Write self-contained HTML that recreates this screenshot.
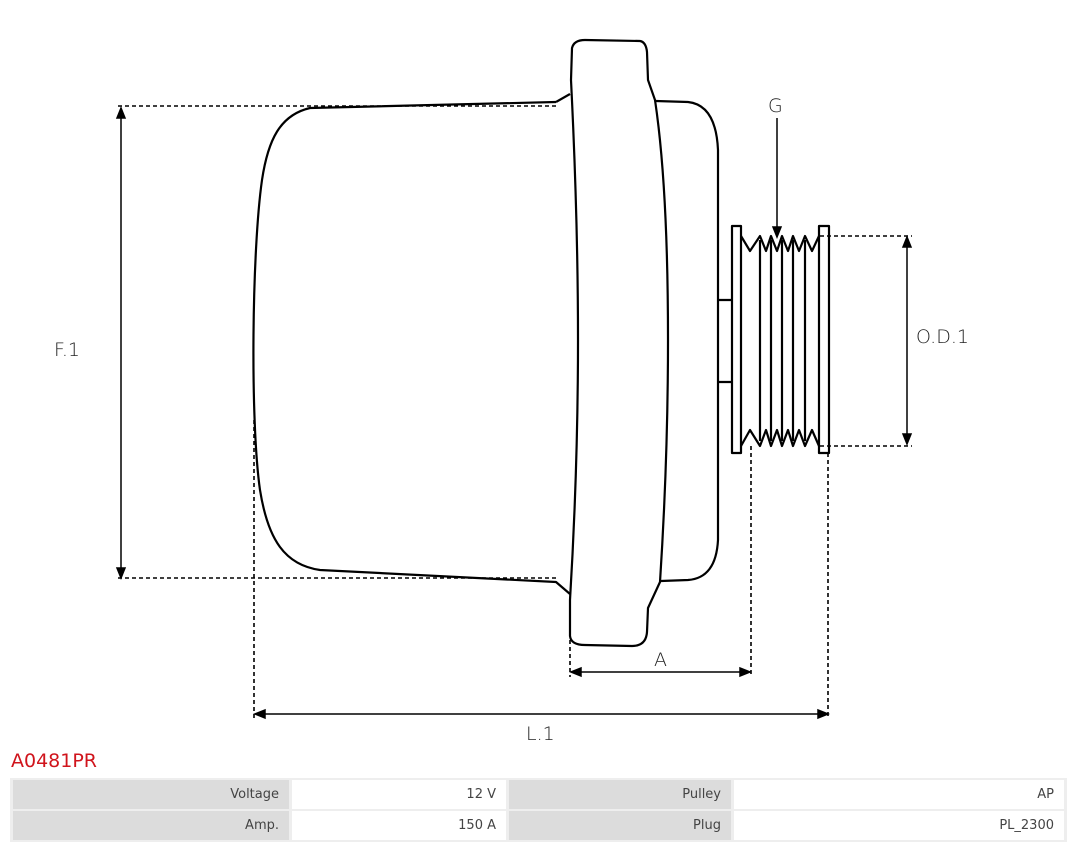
<!DOCTYPE html>
<html><head><style>
body{margin:0;width:1080px;height:851px;background:#fff;font-family:"DejaVu Sans","Liberation Sans",sans-serif;overflow:hidden;position:relative}
svg{position:absolute;left:0;top:0}
.t{position:absolute;left:11px;top:750px;color:#d0141c;font-size:19px}
table{position:absolute;left:10px;top:778px;border-collapse:separate;border-spacing:3px 2px;width:1057px;font-size:13px;color:#444;background:#eee}
td{height:29px;text-align:right;padding:0 10px;background:#fff}
td.l{background:#dcdcdc}
</style></head><body>
<svg width="1080" height="760" viewBox="0 0 1080 760">
<g fill="none" stroke="#000" stroke-width="2.2" stroke-linejoin="round">
<path d="M556,102 L310,108 C280,115 268,140 262,180 C252,250 250,420 260,490 C268,540 285,565 320,570 L556,582 L570,594"/>
<path d="M556,102 L570,94"/>
<path d="M572,48 Q574,40 585,40 L640,41 Q646,42 647,52 L648,80 L655,100 C664,160 668,240 668,340 C668,440 664,520 660,582 L648,608 L647,632 Q646,646 632,646 L585,645 Q571,645 570,636 L570,600 C576,500 578,420 578,340 C578,240 574,140 571,80 Z"/>
<path d="M656,101 L688,102 Q716,105 718,150 L718,540 Q716,578 688,580 L661,581"/>
<path d="M718,300 L732,300 M718,382 L732,382"/>
<rect x="732" y="226" width="9" height="227"/>
<rect x="819" y="226" width="10" height="227"/>
<path d="M741,236 L750,251 L760,236 L766,251 L771,236 L777,251 L782,236 L788,251 L793,236 L799,251 L805,236 L812,251 L819,236"/>
<path d="M741,446 L750,430 L760,446 L766,430 L771,446 L777,430 L782,446 L788,430 L793,446 L799,430 L805,446 L812,430 L819,446"/>
<path d="M760,240 V441 M771,240 V441 M782,240 V441 M793,240 V441 M805,240 V441"/>
</g>
<g fill="none" stroke="#000" stroke-width="1.6" stroke-dasharray="4,3">
<path d="M118,106 H556 M118,578 H556"/>
<path d="M254,420 V718 M828,453 V718 M751,446 V677 M570,640 V677"/>
<path d="M820,236 H912 M820,446 H912"/>
</g>
<g stroke="#000" stroke-width="1.5" fill="#000">
<path d="M121,116 V568"/><path d="M121,108 l-4,10 h8z M121,578 l-4,-10 h8z"/>
<path d="M264,714 H818"/><path d="M255,714 l10,-4 v8z M828,714 l-10,-4 v8z"/>
<path d="M580,672 H741"/><path d="M571,672 l10,-4 v8z M750,672 l-10,-4 v8z"/>
<path d="M907,246 V434"/><path d="M907,237 l-4,10 h8z M907,444 l-4,-10 h8z"/>
<path d="M777,118 V228"/><path d="M777,237 l-4,-10 h8z"/>
</g>
<g font-family="'DejaVu Sans',sans-serif" font-size="19" fill="#222" font-weight="300">
<text x="54" y="356">F.1</text>
<text x="526" y="740">L.1</text>
<text x="654" y="666">A</text>
<text x="916" y="343">O.D.1</text>
<text x="768" y="112">G</text>
</g>
</svg>
<div class="t">A0481PR</div>
<table>
<tr><td class="l" style="width:256px">Voltage</td><td style="width:194px">12 V</td><td class="l" style="width:202px">Pulley</td><td>AP</td></tr>
<tr><td class="l">Amp.</td><td>150 A</td><td class="l">Plug</td><td>PL_2300</td></tr>
</table>
</body></html>
